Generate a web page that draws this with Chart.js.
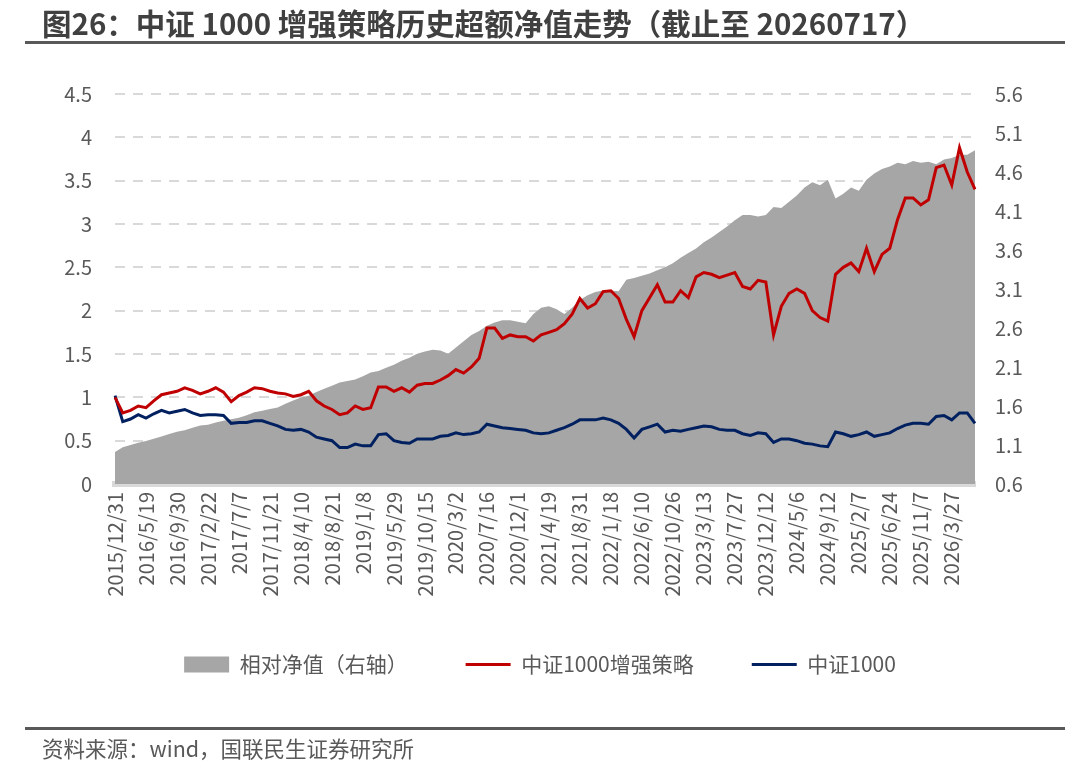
<!DOCTYPE html>
<html>
<head>
<meta charset="utf-8">
<script src="https://cdn.jsdelivr.net/npm/chart.js@4.4.1/dist/chart.umd.min.js"></script>
<style>
  html, body { margin:0; padding:0; background:#fff; }
  #wrap { position:relative; width:1080px; height:771px; overflow:hidden; }
  #c { position:absolute; left:0; top:0; }
  .title { position:absolute; left:42px; top:1px; font-family:"Noto Sans CJK SC","Noto Sans",sans-serif; font-weight:bold; font-size:29.5px; color:#404040; white-space:nowrap; }
  .rule { position:absolute; left:25px; width:1040px; height:3px; background:#595959; }
  .src { position:absolute; left:42px; top:732px; font-family:"Noto Sans CJK SC","Noto Sans",sans-serif; font-size:21.5px; color:#595959; white-space:nowrap; }
</style>
</head>
<body>
<div id="wrap">
  <canvas id="c" width="1080" height="771"></canvas>
  <div class="title">图26：中证 1000 增强策略历史超额净值走势（截止至 20260717）</div>
  <div class="rule" style="top:41px"></div>
  <div class="rule" style="top:727px"></div>
  <div class="src">资料来源：wind，国联民生证券研究所</div>
</div>
<script>
const tickDates = ["2015/12/31","2016/5/19","2016/9/30","2017/2/22","2017/7/7","2017/11/21","2018/4/10","2018/8/21","2019/1/8","2019/5/29","2019/10/15","2020/3/2","2020/7/16","2020/12/1","2021/4/19","2021/8/31","2022/1/18","2022/6/10","2022/10/26","2023/3/13","2023/7/27","2023/12/12","2024/5/6","2024/9/12","2025/2/7","2025/6/24","2025/11/7","2026/3/27"];
const pointsPerTick = 4;

const strategy = [1.00,0.82,0.85,0.90,0.88,0.96,1.03,1.05,1.07,1.11,1.08,1.04,1.07,1.11,1.06,0.95,1.02,1.06,1.11,1.10,
1.07,1.05,1.04,1.01,1.03,1.07,0.96,0.90,0.86,0.80,0.82,0.90,0.86,0.88,1.12,1.12,1.07,1.11,1.06,1.14,
1.16,1.16,1.20,1.25,1.32,1.28,1.35,1.45,1.80,1.80,1.68,1.72,1.70,1.70,1.65,1.72,1.75,1.78,1.85,1.96,
2.14,2.03,2.08,2.22,2.23,2.14,1.90,1.70,2.00,2.15,2.30,2.10,2.10,2.23,2.15,2.39,2.44,2.42,2.38,2.41,
2.44,2.28,2.25,2.35,2.33,1.72,2.05,2.20,2.25,2.20,2.00,1.92,1.88,2.42,2.50,2.55,2.45,2.72,2.45,2.65,
2.72,3.05,3.30,3.30,3.22,3.28,3.65,3.68,3.45,3.88,3.60,3.40];

const csi1000 = [1.02,0.72,0.75,0.80,0.76,0.81,0.85,0.82,0.84,0.86,0.82,0.79,0.80,0.80,0.79,0.70,0.71,0.71,0.73,0.73,
0.70,0.67,0.63,0.62,0.63,0.60,0.54,0.52,0.50,0.42,0.42,0.46,0.44,0.44,0.57,0.58,0.50,0.48,0.47,0.52,
0.52,0.52,0.55,0.56,0.59,0.57,0.58,0.60,0.69,0.67,0.65,0.64,0.63,0.62,0.59,0.58,0.59,0.62,0.65,0.69,
0.74,0.74,0.74,0.76,0.74,0.70,0.63,0.53,0.63,0.66,0.69,0.60,0.62,0.61,0.63,0.65,0.67,0.66,0.63,0.62,
0.62,0.58,0.56,0.59,0.58,0.48,0.52,0.52,0.50,0.47,0.46,0.44,0.43,0.60,0.58,0.55,0.57,0.60,0.55,0.57,
0.59,0.64,0.68,0.70,0.70,0.69,0.78,0.79,0.74,0.82,0.82,0.70];

const relativeNav = [1.01,1.07,1.10,1.13,1.15,1.18,1.21,1.24,1.27,1.29,1.32,1.35,1.36,1.39,1.41,1.43,1.45,1.48,1.52,1.54,
1.56,1.58,1.63,1.67,1.71,1.73,1.78,1.82,1.86,1.90,1.92,1.94,1.98,2.03,2.05,2.09,2.13,2.18,2.22,2.27,
2.30,2.32,2.31,2.27,2.35,2.43,2.51,2.56,2.63,2.67,2.70,2.70,2.68,2.66,2.78,2.86,2.88,2.84,2.78,2.86,
2.96,3.02,3.06,3.08,3.08,3.07,3.22,3.24,3.27,3.30,3.34,3.38,3.43,3.50,3.56,3.62,3.70,3.76,3.83,3.90,
3.98,4.05,4.05,4.03,4.05,4.15,4.14,4.22,4.30,4.40,4.47,4.43,4.50,4.26,4.32,4.40,4.36,4.50,4.58,4.64,
4.67,4.72,4.70,4.74,4.72,4.73,4.70,4.76,4.78,4.82,4.82,4.88];

const seriesNames = ["相对净值（右轴）", "中证1000增强策略", "中证1000"];
const seriesColors = ["#a6a6a6", "#c00000", "#002060"];

const labels = relativeNav.map((_, i) => (i % pointsPerTick === 0 && tickDates[i / pointsPerTick]) ? tickDates[i / pointsPerTick] : "");

const FONT = '"Noto Sans CJK SC", "Noto Sans", sans-serif';
const TXT = "#595959";

new Chart(document.getElementById("c"), {
  type: "line",
  data: {
    labels: labels,
    datasets: [
      { label: seriesNames[0], data: relativeNav, yAxisID: "y1", borderWidth: 0, borderColor: seriesColors[0],
        backgroundColor: seriesColors[0], fill: "start", pointRadius: 0, tension: 0, order: 3 },
      { label: seriesNames[1], data: strategy, yAxisID: "y", borderWidth: 3, borderColor: seriesColors[1],
        backgroundColor: seriesColors[1], fill: false, pointRadius: 0, tension: 0, order: 1 },
      { label: seriesNames[2], data: csi1000, yAxisID: "y", borderWidth: 3, borderColor: seriesColors[2],
        backgroundColor: seriesColors[2], fill: false, pointRadius: 0, tension: 0, order: 2 }
    ]
  },
  options: {
    responsive: false,
    animation: false,
    devicePixelRatio: 1,
    layout: { padding: { top: 94, left: 0, right: 0, bottom: 86 } },
    plugins: {
      tooltip: { enabled: false },
      title: { display: false },
      legend: {
        position: "bottom",
        labels: {
          font: { family: FONT, size: 21 },
          color: TXT,
          usePointStyle: true,
          pointStyleWidth: 45,
          boxHeight: 16,
          padding: 58,
          generateLabels: () => seriesNames.map((name, i) => ({
            text: name,
            fillStyle: seriesColors[i],
            strokeStyle: seriesColors[i],
            lineWidth: i === 0 ? 0 : 3,
            pointStyle: i === 0 ? "rect" : "line",
            fontColor: TXT,
            hidden: false,
            datasetIndex: i
          }))
        }
      }
    },
    scales: {
      x: {
        type: "category",
        grid: { display: false, drawTicks: false },
        border: { display: true, color: "#d9d9d9", width: 6 },
        ticks: {
          autoSkip: false, maxRotation: 90, minRotation: 90, padding: 8,
          font: { family: FONT, size: 20 }, color: TXT
        },
        afterFit: (s) => { s.height = 112; }
      },
      y: {
        position: "left",
        min: 0, max: 4.5,
        grid: { color: "#d9d9d9", lineWidth: 2, drawTicks: false },
        border: { display: false, dash: [10, 8] },
        ticks: {
          stepSize: 0.5, padding: 23, color: TXT,
          font: { family: FONT, size: 20 },
          callback: (v) => String(Number(v.toFixed(1)))
        },
        afterFit: (s) => { s.width = 115; }
      },
      y1: {
        position: "right",
        min: 0.6, max: 5.6,
        grid: { drawOnChartArea: false, drawTicks: false },
        border: { display: false },
        ticks: {
          stepSize: 0.5, padding: 20, color: TXT,
          font: { family: FONT, size: 20 },
          callback: (v) => Number(v).toFixed(1)
        },
        afterFit: (s) => { s.width = 105; }
      }
    }
  }
});
</script>
</body>
</html>
